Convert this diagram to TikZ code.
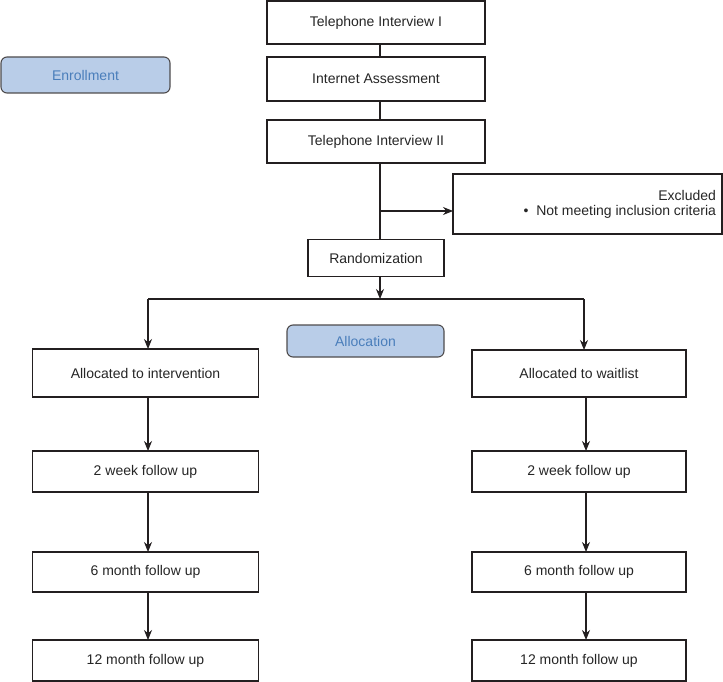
\documentclass[tikz,border=0pt]{standalone}
\usepackage{fontspec}
\setmainfont{Liberation Sans}
\usetikzlibrary{arrows.meta,calc}
\definecolor{lineC}{HTML}{231F20}
\definecolor{labFill}{HTML}{B9CDE8}
\definecolor{labText}{HTML}{4A7EBB}
\tikzset{
  box/.style={draw=lineC, line width=1.1pt, fill=white, inner sep=0pt, outer sep=0pt, font=\fontsize{14}{16}\selectfont, text=black!85},
  tag/.style={draw=lineC!80, line width=1.1pt, fill=labFill, rounded corners=6pt, inner sep=0pt, outer sep=0pt, font=\fontsize{14}{16}\selectfont, text=labText},
  conn/.style={draw=lineC, line width=1.1pt},
  arr/.style={conn, -{Stealth[length=10pt,width=8pt]}}
}
\begin{document}
\begin{tikzpicture}[x=1pt,y=-1pt]
\useasboundingbox (0,0) rectangle (723,682);
% top column
\node[box, minimum width=218pt, minimum height=43pt] (ti1) at (376,22.5) {Telephone Interview I};
\node[box, minimum width=218pt, minimum height=44pt] (ia) at (376,79) {Internet Assessment};
\node[box, minimum width=218pt, minimum height=43pt] (ti2) at (376,141.5) {Telephone Interview II};
\node[tag, minimum width=169pt, minimum height=36pt] (enr) at (85.5,75) {Enrollment};
\node[box, minimum width=269pt, minimum height=60pt, align=right] (excl) at (587.5,204)
  {\parbox{257pt}{\raggedleft Excluded\\[-1pt]\textbullet\ \ Not meeting inclusion criteria}};
\node[box, minimum width=136pt, minimum height=37pt] (rand) at (376,258) {Randomization};
\node[tag, minimum width=157pt, minimum height=32pt] (alloc) at (365.5,341) {Allocation};
% left column
\node[box, minimum width=226pt, minimum height=48pt] (li) at (145.5,373) {Allocated to intervention};
\node[box, minimum width=226pt, minimum height=41pt] (l2) at (145.5,471.5) {2 week follow up};
\node[box, minimum width=226pt, minimum height=40pt] (l6) at (145.5,572) {6 month follow up};
\node[box, minimum width=226pt, minimum height=41pt] (l12) at (145.5,660.5) {12 month follow up};
% right column
\node[box, minimum width=214pt, minimum height=47pt] (ri) at (579,373.5) {Allocated to waitlist};
\node[box, minimum width=214pt, minimum height=41pt] (r2) at (579,471.5) {2 week follow up};
\node[box, minimum width=214pt, minimum height=40pt] (r6) at (579,572) {6 month follow up};
\node[box, minimum width=214pt, minimum height=41pt] (r12) at (579,660.5) {12 month follow up};
% helper coordinates
\coordinate (tx) at (380,0);
\coordinate (br) at (380,211);
\coordinate (split) at (380,299);
\coordinate (lx) at (148,299);
\coordinate (rx) at (584,299);
\coordinate (lcol) at (148,0);
\coordinate (rcol) at (586,0);
% connectors
\draw[conn] (ti1.south -| tx) -- (ia.north -| tx);
\draw[conn] (ia.south -| tx) -- (ti2.north -| tx);
\draw[conn] (ti2.south -| tx) -- (rand.north -| tx);
\draw[arr] (br) -- (br -| excl.west);
\draw[arr] (rand.south -| tx) -- (split);
\draw[conn] (lx) -- (rx);
\draw[arr] (lx) -- (li.north -| lx);
\draw[arr] (rx) -- (ri.north -| rx);
\draw[arr] (li.south -| lcol) -- (l2.north -| lcol);
\draw[arr] (l2.south -| lcol) -- (l6.north -| lcol);
\draw[arr] (l6.south -| lcol) -- (l12.north -| lcol);
\draw[arr] (ri.south -| rcol) -- (r2.north -| rcol);
\draw[arr] (r2.south -| rcol) -- (r6.north -| rcol);
\draw[arr] (r6.south -| rcol) -- (r12.north -| rcol);
\end{tikzpicture}
\end{document}
